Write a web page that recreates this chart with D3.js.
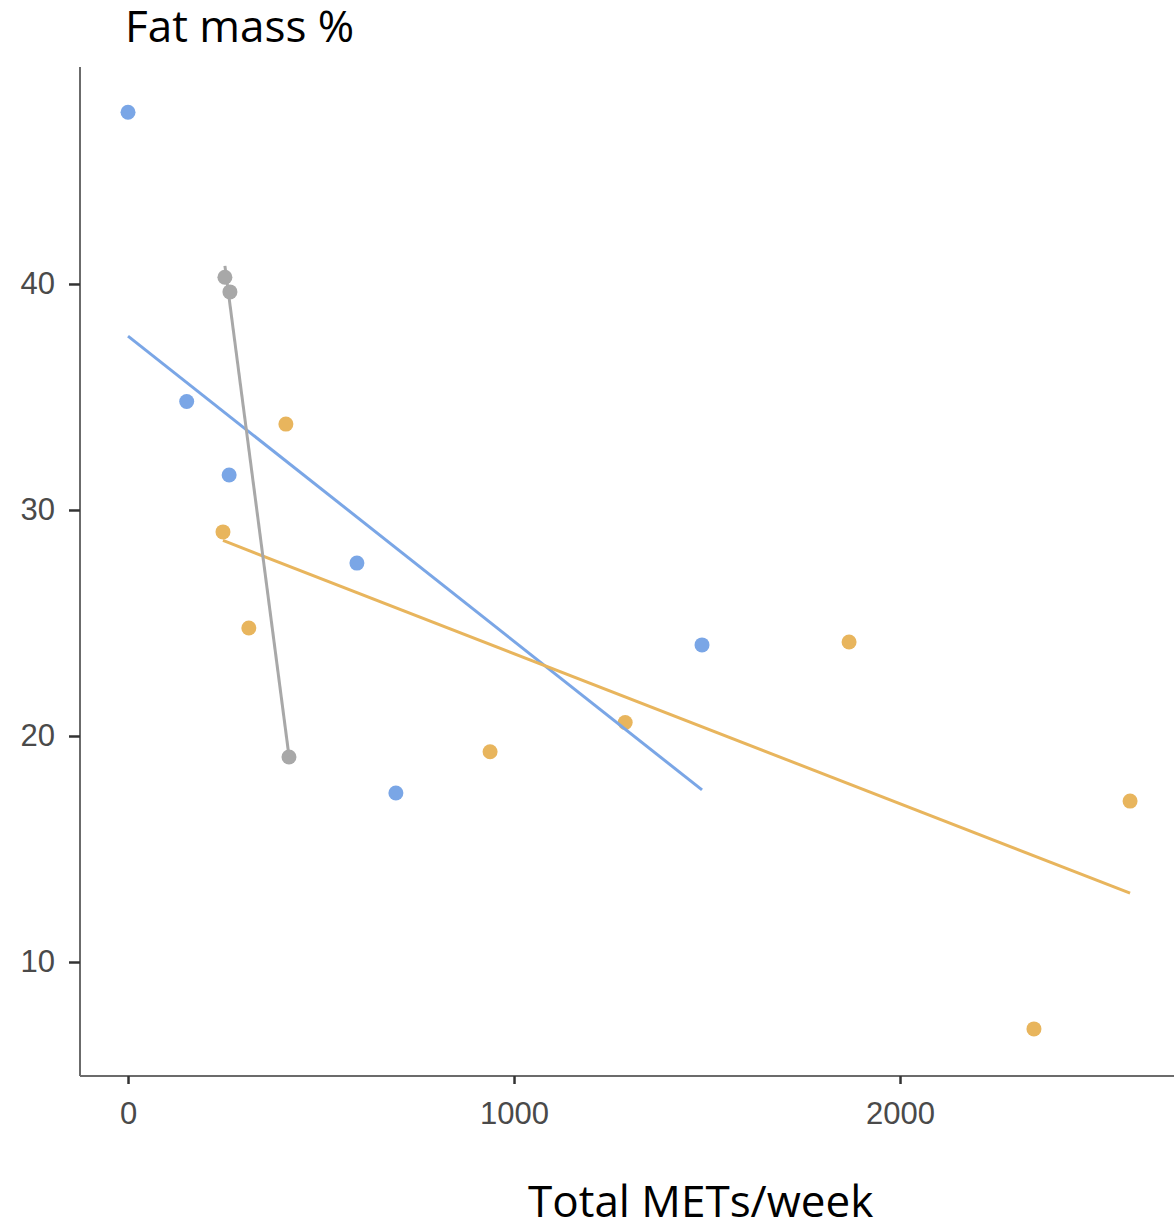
<!DOCTYPE html>
<html>
<head>
<meta charset="utf-8">
<script src="https://cdn.jsdelivr.net/npm/d3@7"></script>
<style>
  html, body { margin: 0; padding: 0; background: #fff; }
  svg { display: block; }
</style>
</head>
<body>
<svg id="chart" width="1174" height="1225"></svg>
<script>
// ---- Data ----
const groups = ["blue", "orange", "gray"];
const groupColors = ["#7aa6e6", "#e8b55d", "#a8a8a8"];

const blueX = [0, 152, 262, 593, 694, 1487];
const blueY = [47.6, 34.8, 31.55, 27.65, 17.48, 24.03];

const orangeX = [246, 313, 409, 938, 1288, 1868, 2347, 2596];
const orangeY = [29.03, 24.78, 33.8, 19.3, 20.6, 24.16, 7.04, 17.12];

const grayX = [251, 264, 417];
const grayY = [40.3, 39.65, 19.07];

const xTicks = [0, 1000, 2000];
const yTicks = [10, 20, 30, 40];

const xTitle = "Total METs/week";
const yTitle = "Fat mass %";

// ---- Layout ----
const svg = d3.select("#chart");
const mLeft = 80, mRight = 1174, mTop = 67, mBottom = 1076;

const x = d3.scaleLinear().domain([-124.4, 2709.8]).range([mLeft, mRight]);
const y = d3.scaleLinear().domain([4.956, 49.6]).range([mBottom, mTop]);

const series = [
  { name: groups[0], color: groupColors[0], xs: blueX, ys: blueY },
  { name: groups[1], color: groupColors[1], xs: orangeX, ys: orangeY },
  { name: groups[2], color: groupColors[2], xs: grayX, ys: grayY }
];

function linFit(xs, ys) {
  const mx = d3.mean(xs), my = d3.mean(ys);
  let sxy = 0, sxx = 0;
  xs.forEach((v, i) => { sxy += (v - mx) * (ys[i] - my); sxx += (v - mx) * (v - mx); });
  const b = sxy / sxx, a = my - b * mx;
  return v => a + b * v;
}

// axes
const tickFont = "'Liberation Sans', Arial, sans-serif";
const yAxis = svg.append("g").attr("transform", `translate(${mLeft},0)`)
  .call(d3.axisLeft(y).tickValues(yTicks).tickSize(11).tickPadding(14).tickFormat(d3.format("d")));
const xAxis = svg.append("g").attr("transform", `translate(0,${mBottom})`)
  .call(d3.axisBottom(x).tickValues(xTicks).tickSize(8).tickPadding(18).tickFormat(d3.format("d")));

[yAxis, xAxis].forEach(g => {
  g.select(".domain").attr("stroke", "#6b6b6b").attr("stroke-width", 2);
  g.selectAll(".tick line").attr("stroke", "#333").attr("stroke-width", 2.5);
  g.selectAll(".tick text").attr("fill", "#4a4a4a").style("font-family", tickFont).style("font-size", "31px");
});
xAxis.select(".domain").attr("d", `M${mLeft},0H${mRight}`);
yAxis.select(".domain").attr("d", `M0,${mTop}V${mBottom}`);

// points
series.forEach(s => {
  svg.append("g").selectAll("circle")
    .data(s.xs.map((v, i) => [v, s.ys[i]]))
    .join("circle")
    .attr("cx", d => x(d[0]))
    .attr("cy", d => y(d[1]))
    .attr("r", 7.5)
    .attr("fill", s.color);
});

// regression lines
series.forEach(s => {
  const f = linFit(s.xs, s.ys);
  const [x0, x1] = d3.extent(s.xs);
  svg.append("path")
    .attr("d", d3.line()([[x(x0), y(f(x0))], [x(x1), y(f(x1))]]))
    .attr("stroke", s.color)
    .attr("stroke-width", 3)
    .attr("fill", "none");
});

// titles
const titleFont = "'Open Sans', 'Noto Sans', sans-serif";
svg.append("text")
  .attr("x", 125).attr("y", 42)
  .style("font-family", titleFont).style("font-size", "44px")
  .attr("fill", "#000")
  .text(yTitle);

svg.append("text")
  .attr("x", 528).attr("y", 1217)
  .style("font-family", titleFont).style("font-size", "44px")
  .attr("fill", "#000")
  .text(xTitle);
</script>
</body>
</html>
